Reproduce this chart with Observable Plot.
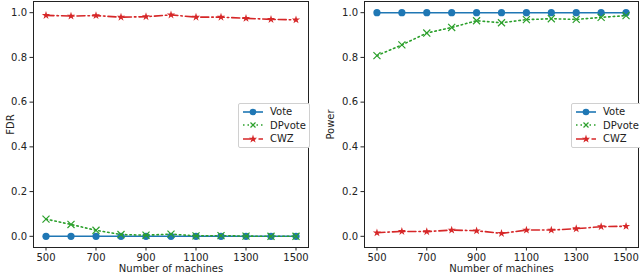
<!DOCTYPE html>
<html>
<head>
<meta charset="utf-8">
<script src="https://cdn.jsdelivr.net/npm/d3@7"></script>
<script src="https://cdn.jsdelivr.net/npm/@observablehq/plot@0.6"></script>
<style>
  html, body { margin: 0; padding: 0; background: #fff; }
  #wrap { position: relative; width: 640px; height: 272px; display: flex; font-family: "DejaVu Sans", sans-serif; }
  .legend { position: absolute; background: #fff; border: 1px solid #d0d0d0; border-radius: 2px; font-size: 10px; color: #222; padding: 1px 3px; }
  .legend .row { display: flex; align-items: center; height: 13.5px; }
  .legend svg { margin-right: 6px; }
</style>
</head>
<body>
<div id="wrap"></div>
<script>
const machines = [500, 600, 700, 800, 900, 1000, 1100, 1200, 1300, 1400, 1500];
const xTicks = [500, 700, 900, 1100, 1300, 1500];
const yTicks = [0, 0.2, 0.4, 0.6, 0.8, 1.0];

const fdrVote   = [0, 0, 0, 0, 0, 0, 0, 0, 0, 0, 0];
const fdrDPvote = [0.077, 0.053, 0.027, 0.008, 0.005, 0.010, 0.002, 0.003, 0.001, 0.000, 0.000];
const fdrCWZ    = [0.988, 0.985, 0.987, 0.980, 0.982, 0.990, 0.980, 0.980, 0.975, 0.970, 0.968];

const powerVote   = [1, 1, 1, 1, 1, 1, 1, 1, 1, 1, 1];
const powerDPvote = [0.808, 0.856, 0.909, 0.934, 0.964, 0.955, 0.969, 0.973, 0.970, 0.979, 0.987];
const powerCWZ    = [0.016, 0.022, 0.021, 0.028, 0.025, 0.013, 0.028, 0.028, 0.034, 0.043, 0.045];

const seriesNames = ["Vote", "DPvote", "CWZ"];
const colors = {Vote: "#1f77b4", DPvote: "#2ca02c", CWZ: "#d62728"};
const dashes = {Vote: null, DPvote: "1.5,3", CWZ: "8,3,1.5,3"};
const symbols = {Vote: "circle", DPvote: "times", CWZ: "star"};

function rows(vals) { return machines.map((m, i) => ({x: m, y: vals[i]})); }

function panel(label, seriesVals, marginLeft, marginRight) {
  const marks = [];
  seriesNames.forEach((name, k) => {
    const data = rows(seriesVals[k]);
    marks.push(Plot.line(data, {x: "x", y: "y", stroke: colors[name], strokeWidth: 1.6, strokeDasharray: dashes[name]}));
    if (symbols[name] === "times") {
      marks.push(Plot.dot(data, {x: "x", y: "y", symbol: "times", stroke: colors[name], strokeWidth: 1.2, r: 3.3}));
    } else if (symbols[name] === "star") {
      marks.push(Plot.dot(data, {x: "x", y: "y", symbol: "star", fill: colors[name], stroke: "none", r: 2.6}));
    } else {
      marks.push(Plot.dot(data, {x: "x", y: "y", symbol: "circle", fill: colors[name], stroke: "none", r: 3.6}));
    }
  });
  return Plot.plot({
    width: 320,
    height: 272,
    marginTop: 1,
    marginBottom: 25,
    marginLeft,
    marginRight,
    style: {fontFamily: "DejaVu Sans, sans-serif", fontSize: "10px", color: "#222", background: "#fff"},
    x: {domain: [450, 1550]},
    y: {domain: [-0.05, 1.05]},
    marks: [
      ...marks,
      Plot.frame({stroke: "#222", strokeWidth: 1}),
      Plot.axisX({ticks: xTicks, tickSize: 3.5, tickPadding: 3, tickFormat: d => String(d), label: "Number of machines", labelAnchor: "center", labelArrow: "none", labelOffset: 24}),
      Plot.axisY({ticks: yTicks, tickSize: 3.5, tickPadding: 3, tickFormat: d => d.toFixed(1), label: label, labelAnchor: "center", labelArrow: "none", labelOffset: marginLeft - 6})
    ]
  });
}

const wrap = document.getElementById("wrap");
wrap.appendChild(panel("FDR", [fdrVote, fdrDPvote, fdrCWZ], 33, 12));
wrap.appendChild(panel("Power", [powerVote, powerDPvote, powerCWZ], 44, 2));

function legend(left, top) {
  const div = document.createElement("div");
  div.className = "legend";
  div.style.left = left + "px";
  div.style.top = top + "px";
  seriesNames.forEach(name => {
    const row = document.createElement("div");
    row.className = "row";
    const c = colors[name];
    let marker;
    if (name === "Vote") marker = `<circle cx="11" cy="5" r="3.3" fill="${c}"/>`;
    else if (name === "DPvote") marker = `<path d="M8.5,2.5L13.5,7.5M13.5,2.5L8.5,7.5" stroke="${c}" stroke-width="1.2"/>`;
    else marker = `<path transform="translate(11,5)" d="${d3.symbol(d3.symbolStar, 22)()}" fill="${c}"/>`;
    const dash = dashes[name] ? `stroke-dasharray="${dashes[name]}"` : "";
    row.innerHTML = `<svg width="22" height="10"><line x1="1" y1="5" x2="21" y2="5" stroke="${c}" stroke-width="1.6" ${dash}/>${marker}</svg><span>${name}</span>`;
    div.appendChild(row);
  });
  wrap.appendChild(div);
}
legend(238, 103);
legend(571, 103);
</script>
</body>
</html>
